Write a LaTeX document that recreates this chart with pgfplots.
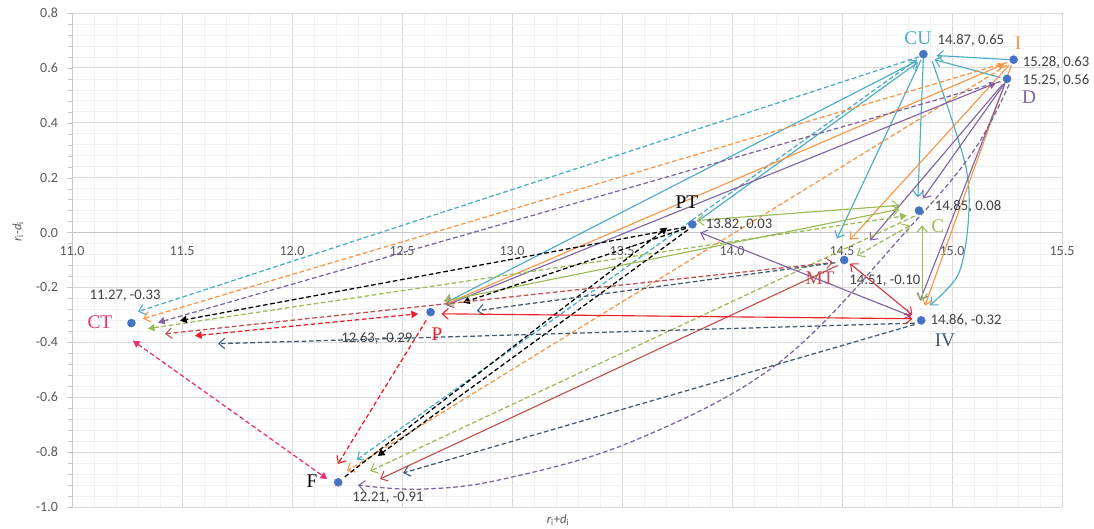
\documentclass[border=0pt]{standalone}
\usepackage{pgfplots}
\pgfplotsset{compat=1.18}
\usetikzlibrary{arrows.meta}
\usepackage{fontspec}
\setmainfont{Carlito}
\newfontfamily\tnr{Liberation Serif}

\definecolor{cuc}{RGB}{75,172,198}
\definecolor{ioc}{RGB}{247,150,70}
\definecolor{dpc}{RGB}{128,100,162}
\definecolor{cgc}{RGB}{155,187,89}
\definecolor{mtc}{RGB}{192,80,77}
\definecolor{mtr}{RGB}{215,55,65}
\definecolor{ivc}{RGB}{68,90,110}
\definecolor{prc}{RGB}{235,30,40}
\definecolor{ctc}{RGB}{232,50,110}
\definecolor{ptblue}{RGB}{68,114,196}
\definecolor{gridA}{RGB}{217,217,217}
\definecolor{gridB}{RGB}{241,241,241}
\definecolor{axgray}{RGB}{89,89,89}
\definecolor{lblgray}{RGB}{64,64,64}

\tikzset{
  oh/.tip={Straight Barb[length=4.5pt,width=8pt,line width=0.8pt]},
  fh/.tip={Triangle[length=5pt,width=5.5pt]},
  ln/.style={line width=0.85pt},
  ds/.style={line width=0.95pt, dash pattern=on 3.5pt off 2pt},
  nl/.style={font=\tnr\fontsize{14.5}{14.5}\selectfont},
  cl/.style={font=\fontsize{11}{12}\selectfont, text=lblgray},
}

\begin{document}
\begin{tikzpicture}
\useasboundingbox (0,0) rectangle (820.5pt,396pt);
\begin{axis}[
  at={(54pt,15.75pt)}, anchor=south west,
  width=742.5pt, height=370.5pt, scale only axis,
  xmin=11, xmax=15.5, ymin=-1, ymax=0.8,
  axis x line=middle, axis y line=left,
  x axis line style={-, draw=gridA!80!gray},
  y axis line style={-, draw=gridA!80!gray},
  hide obscured x ticks=false, hide obscured y ticks=false,
  xtick={11,11.5,...,15.5},
  ytick={-1,-0.8,...,0.8},
  minor x tick num=4, minor y tick num=4,
  grid=both,
  major grid style={draw=gridA, line width=0.6pt},
  minor grid style={draw=gridB, line width=0.5pt},
  xtick style={draw=none},
  minor tick style={draw=none},
  ytick style={draw=gridA!80!gray},
  tick align=outside, major tick length=4pt,
  ticklabel style={font=\fontsize{10.5}{12}\selectfont, text=axgray},
  xticklabel style={yshift=-3pt},
  yticklabel style={xshift=-3pt},
  /pgf/number format/.cd, assume math mode=true, fixed, fixed zerofill, precision=1,
  /pgfplots/.cd,
  xlabel={\textit{r}\textsubscript{i}+\textit{d}\textsubscript{i}},
  ylabel={\textit{r}\textsubscript{i}-\textit{d}\textsubscript{i}},
  label style={font=\fontsize{9.5}{10}\selectfont, text=axgray},
  xlabel style={at={(axis description cs:0.491,-0.026)}, anchor=center},
  ylabel style={at={(axis description cs:-0.0545,0.557)}, anchor=center},
  clip=false,
]
% CU
\addplot[cuc, ds, -oh] coordinates {(14.85,0.64) (11.300,-0.288)};
\addplot[cuc, ln, oh-oh] coordinates {(12.70,-0.255) (14.84,0.625)};
\addplot[cuc, ln, -oh] coordinates {(13.85,0.045) (14.845,0.62)};
\addplot[cuc, ln, -oh] coordinates {(14.87,0.64) (14.845,0.128)};
\addplot[cuc, ln, -oh] coordinates {(14.86,0.63) (14.477,-0.022)};
\addplot[cuc, ln, -oh, smooth] coordinates {(14.91,0.625) (15.06,0.25) (15.075,0.05) (15.03,-0.15) (14.90,-0.265)};
\addplot[cuc, ds, -oh] coordinates {(14.84,0.63) (12.295,-0.828)};
\addplot[cuc, ln, -oh] coordinates {(15.26,0.63) (14.93,0.645)};
\addplot[cuc, ln, -oh] coordinates {(15.22,0.565) (14.92,0.63)};
% I
\addplot[ioc, ds, -oh] coordinates {(15.25,0.62) (11.323,-0.314)};
\addplot[ioc, ln, oh-fh] coordinates {(12.70,-0.26) (15.24,0.615)};
\addplot[ioc, ds, -oh] coordinates {(15.25,0.61) (12.25,-0.869)};
\addplot[ioc, ln, -oh] coordinates {(15.26,0.61) (14.536,-0.026)};
\addplot[ioc, ln, -oh] coordinates {(15.27,0.61) (14.877,-0.266)};
% D
\addplot[dpc, ds, -fh] coordinates {(15.22,0.55) (11.391,-0.328)};
\addplot[dpc, ln, oh-fh] coordinates {(12.70,-0.265) (15.20,0.545)};
\addplot[dpc, ln, -oh] coordinates {(15.23,0.54) (14.627,-0.029)};
\addplot[dpc, ln, -oh] coordinates {(15.24,0.54) (14.855,-0.248)};
\addplot[dpc, ln, -oh] coordinates {(15.24,0.545) (14.868,0.124)};
\addplot[dpc, ds, -oh, smooth, tension=0.6] coordinates {(15.26,0.54) (15.10,0.30) (14.82,0.03) (14.22,-0.47) (13.55,-0.76) (12.95,-0.90) (12.58,-0.935) (12.30,-0.92)};
% C
\addplot[cgc, ds, fh-fh] coordinates {(11.345,-0.350) (14.795,0.062)};
\addplot[cgc, ln, oh-oh] coordinates {(13.84,0.044) (14.76,0.099)};
\addplot[cgc, ln, oh-oh] coordinates {(12.69,-0.25) (14.76,0.085)};
\addplot[cgc, ds, -oh] coordinates {(14.83,0.06) (12.355,-0.869)};
\addplot[cgc, ln, oh-oh] coordinates {(14.864,0.026) (14.864,-0.248)};
\addplot[cgc, ds, oh-oh] coordinates {(14.81,0.026) (14.568,-0.084)};
% PT
\addplot[black, ds, -fh] coordinates {(13.79,0.02) (11.491,-0.321)};
\addplot[black, ds, -fh] coordinates {(13.79,0.015) (12.777,-0.255)};
\addplot[black, ds, -fh] coordinates {(13.80,0.01) (12.39,-0.814)};
\addplot[black, ds, -fh] coordinates {(12.24,-0.89) (13.705,0.018)};
% MT
\addplot[mtc, ds, oh-oh] coordinates {(11.423,-0.369) (14.459,-0.109)};
\addplot[mtc, ln, -oh] coordinates {(14.48,-0.12) (12.40,-0.898)};
\addplot[mtr, ln, oh-oh] coordinates {(14.536,-0.113) (14.82,-0.30)};
\addplot[ivc, ds, -oh] coordinates {(14.47,-0.11) (12.84,-0.285)};
% IV
\addplot[ivc, ds, -oh] coordinates {(14.83,-0.33) (11.664,-0.405)};
\addplot[ivc, ds, -oh] coordinates {(14.83,-0.335) (12.505,-0.876)};
\addplot[dpc, ln, oh-oh] coordinates {(13.855,0.0) (14.815,-0.305)};
% P
\addplot[prc, ds, fh-fh] coordinates {(11.559,-0.376) (12.573,-0.296)};
\addplot[prc, ds, -oh] coordinates {(12.61,-0.32) (12.209,-0.843)};
\addplot[prc, ln, oh-oh] coordinates {(12.68,-0.296) (14.82,-0.314)};
% CT
\addplot[ctc, ds, fh-fh] coordinates {(11.277,-0.394) (12.16,-0.898)};
% factors
\addplot[only marks, mark=*, mark size=3pt, ptblue] coordinates {
  (14.87,0.65) (15.28,0.63) (15.25,0.56) (14.85,0.08) (13.82,0.03)
  (14.51,-0.10) (14.86,-0.32) (12.63,-0.29) (11.27,-0.33) (12.21,-0.91)};
% names
\node[nl, text=cuc] at (axis cs:14.845,0.708) {CU};
\node[nl, text=ioc] at (axis cs:15.30,0.690) {I};
\node[nl, text=dpc] at (axis cs:15.35,0.493) {D};
\node[nl, text=cgc] at (axis cs:14.936,0.022) {C};
\node[nl, text=black] at (axis cs:13.795,0.109) {PT};
\node[nl, text=mtc] at (axis cs:14.40,-0.168) {MT};
\node[nl, text=ivc] at (axis cs:14.968,-0.394) {IV};
\node[nl, text=prc] at (axis cs:12.659,-0.369) {P};
\node[nl, text=ctc] at (axis cs:11.127,-0.328) {CT};
\node[nl, text=black] at (axis cs:12.091,-0.905) {F};
% coordinates
\node[cl] at (axis cs:15.086,0.701) {14.87, 0.65};
\node[cl] at (axis cs:15.473,0.620) {15.28, 0.63};
\node[cl] at (axis cs:15.473,0.555) {15.25, 0.56};
\node[cl] at (axis cs:15.073,0.095) {14.85, 0.08};
\node[cl] at (axis cs:14.032,0.029) {13.82, 0.03};
\node[cl] at (axis cs:14.695,-0.175) {14.51, -0.10};
\node[cl] at (axis cs:15.064,-0.321) {14.86, -0.32};
\node[cl] at (axis cs:12.386,-0.387) {12.63, -0.29};
\node[cl] at (axis cs:11.241,-0.230) {11.27, -0.33};
\node[cl] at (axis cs:12.436,-0.967) {12.21, -0.91};
\end{axis}
\end{tikzpicture}
\end{document}
